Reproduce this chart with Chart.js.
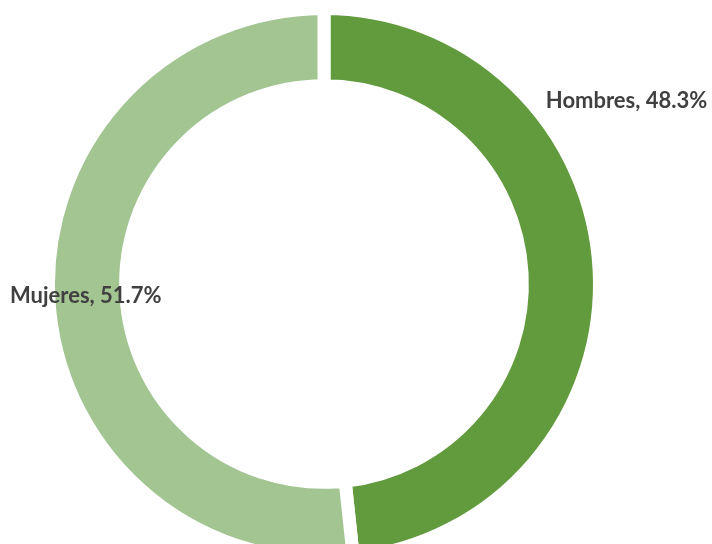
<!DOCTYPE html>
<html>
<head>
<meta charset="utf-8">
<script src="https://cdn.jsdelivr.net/npm/chart.js@4/dist/chart.umd.min.js"></script>
<style>
  html, body { margin: 0; padding: 0; background: #ffffff; overflow: hidden; }
  #wrap { position: absolute; left: 0; top: 0; width: 712px; height: 568px; }
</style>
</head>
<body>
<div id="wrap"><canvas id="c"></canvas></div>
<script>
const categories = ["Hombres", "Mujeres"];
const shares = [48.3, 51.7];
const sliceColors = ["#629B3E", "#A3C592"];

const labelPlugin = {
  id: 'sliceLabels',
  afterDatasetsDraw(chart) {
    const ctx = chart.ctx;
    const meta = chart.getDatasetMeta(0);
    const arc = meta.data[0];
    const cx = arc.x, cy = arc.y, R = arc.outerRadius;
    ctx.save();
    ctx.font = 'bold 22px Lato, "DejaVu Sans", sans-serif';
    ctx.fillStyle = '#404040';
    ctx.textBaseline = 'middle';
    ctx.textAlign = 'left';
    const fmt = i => categories[i] + ', ' + shares[i].toFixed(1) + '%';
    // Hombres label at upper right, Mujeres label at left
    ctx.fillText(fmt(0), cx + R * 0.805, cy - R * 0.665);
    ctx.fillText(fmt(1), cx - R * 1.14, cy + R * 0.045);
    ctx.restore();
  }
};

new Chart(document.getElementById('c'), {
  type: 'doughnut',
  data: {
    labels: categories,
    datasets: [{
      data: shares,
      backgroundColor: sliceColors,
      borderColor: '#ffffff',
      borderWidth: 13,
      hoverOffset: 0
    }]
  },
  options: {
    responsive: true,
    maintainAspectRatio: false,
    animation: false,
    cutout: '72%',
    layout: { padding: { left: 0, right: 64, top: 2, bottom: 2 } },
    plugins: {
      legend: { display: false },
      tooltip: { enabled: false }
    }
  },
  plugins: [labelPlugin]
});
</script>
</body>
</html>
